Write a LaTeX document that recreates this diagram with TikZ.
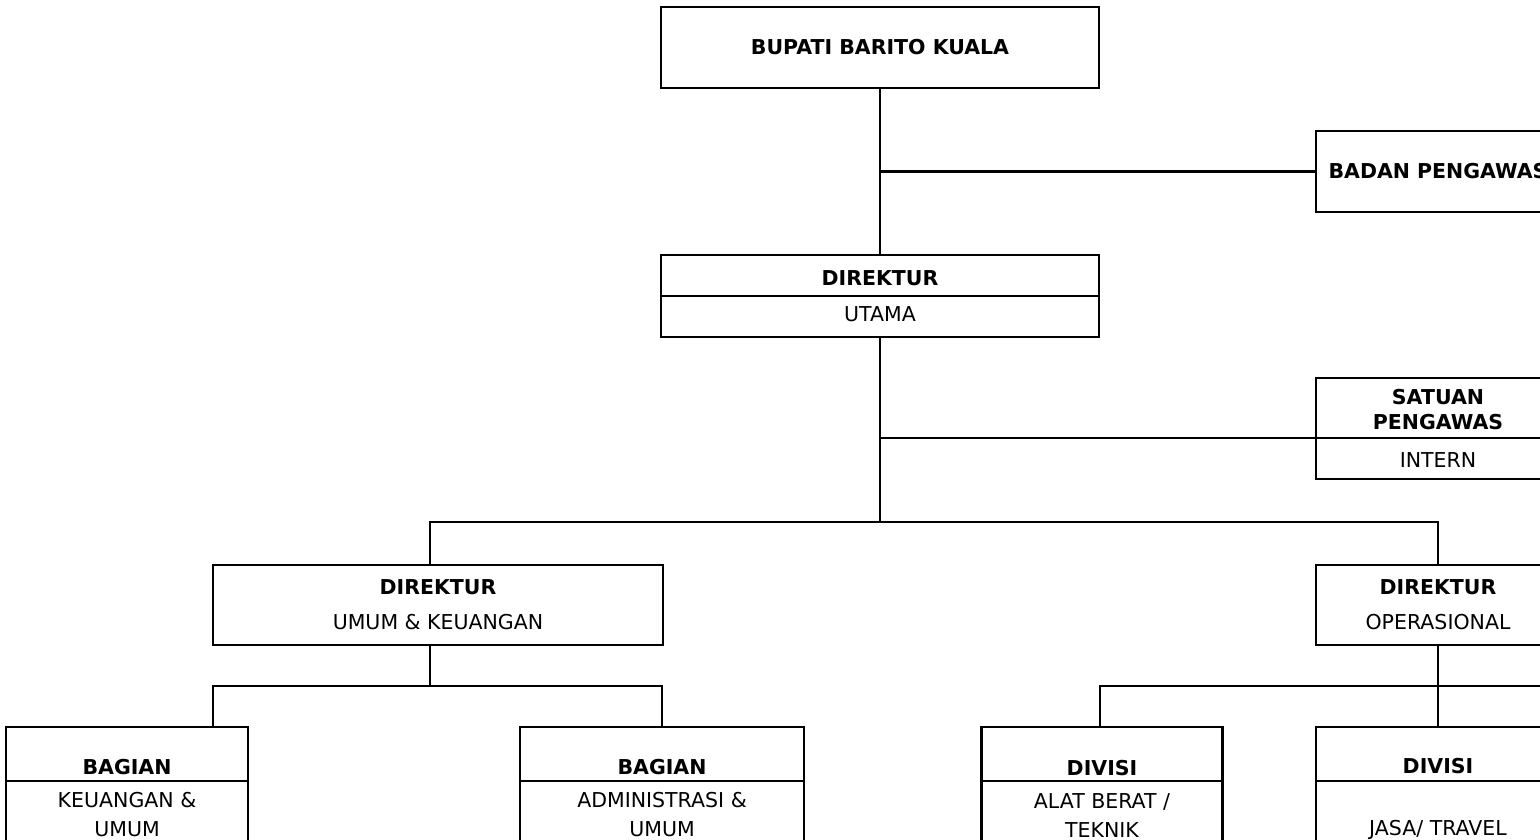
\documentclass[tikz,border=0pt]{standalone}
\usepackage{fontspec}
\setmainfont{DejaVu Sans}

\begin{document}
\begin{tikzpicture}[x=1pt, y=-1pt, line width=2.4pt,
    box/.style={draw, rectangle, inner sep=0pt, align=center,
        font=\fontsize{20.5}{24}\selectfont}]
    \useasboundingbox (0,0) rectangle (1540,839);

    % top level
    \node (bupati) at (880,47.5) [box, minimum width=438, minimum height=81] {\textbf{BUPATI BARITO KUALA}};
    \node (badan) at (1438,171.5) [box, minimum width=244, minimum height=81] {\textbf{BADAN PENGAWAS}};
    \node (utama) at (880,296) [box, minimum width=438, minimum height=82] {\textbf{DIREKTUR}\\[12pt]UTAMA};
    \node (satuan) at (1438,428.5) [box, minimum width=244, minimum height=101] {\textbf{SATUAN}\\[1pt]\textbf{PENGAWAS}\\[14pt]INTERN};

    % direktur
    \node (dirumum) at (438,605) [box, minimum width=450, minimum height=80] {\textbf{DIREKTUR}\\[11pt]UMUM \& KEUANGAN};
    \node (dirops) at (1438,605) [box, minimum width=244, minimum height=80] {\textbf{DIREKTUR}\\[11pt]OPERASIONAL};

    % bagian / divisi
    \node (bagkeu) at (127,798.5) [box, minimum width=242, minimum height=143] {\textbf{BAGIAN}\\[9pt]KEUANGAN \&\\[5pt]UMUM};
    \node (bagadm) at (662,798.5) [box, minimum width=284, minimum height=143] {\textbf{BAGIAN}\\[9pt]ADMINISTRASI \&\\[5pt]UMUM};
    \node (divalat) at (1102,798.5) [box, minimum width=241, minimum height=143] {\textbf{DIVISI}\\[9pt]ALAT BERAT /\\[5pt]TEKNIK};
    \node (divjasa) at (1438,798.5) [box, minimum width=244, minimum height=143] {\textbf{DIVISI}\\[38pt]JASA/ TRAVEL};

    % dividers
    \draw (utama.west) -- (utama.east);
    \draw ([yshift=-9.5pt]satuan.west) -- ([yshift=-9.5pt]satuan.east);
    \foreach \b in {bagkeu, bagadm, divalat, divjasa}
        \draw ([yshift=17.5pt]\b.west) -- ([yshift=17.5pt]\b.east);

    \coordinate (j1) at (880,522);
    \coordinate (s1) at (880,438);
    \coordinate (j2) at (430,686);
    \coordinate (j3) at (1438,686);
    \coordinate (offR) at (1560,686);

    \draw (bupati) -- (utama);
    \draw (bupati.south |- badan.west) -- (badan.west);
    \draw (utama.south) -- (j1);
    \draw (s1) -- (s1 -| satuan.west);
    \draw ([xshift=-8pt]dirumum.north) |- (j1) -| (dirops.north);
    \draw ([xshift=-8pt]dirumum.south) -- (j2);
    \draw ([xshift=86pt]bagkeu.north) |- (j2) -| (bagadm.north);
    \draw (dirops) -- (divjasa);
    \draw ([xshift=-2pt]divalat.north) |- (j3) -- (offR);
\end{tikzpicture}
\end{document}
